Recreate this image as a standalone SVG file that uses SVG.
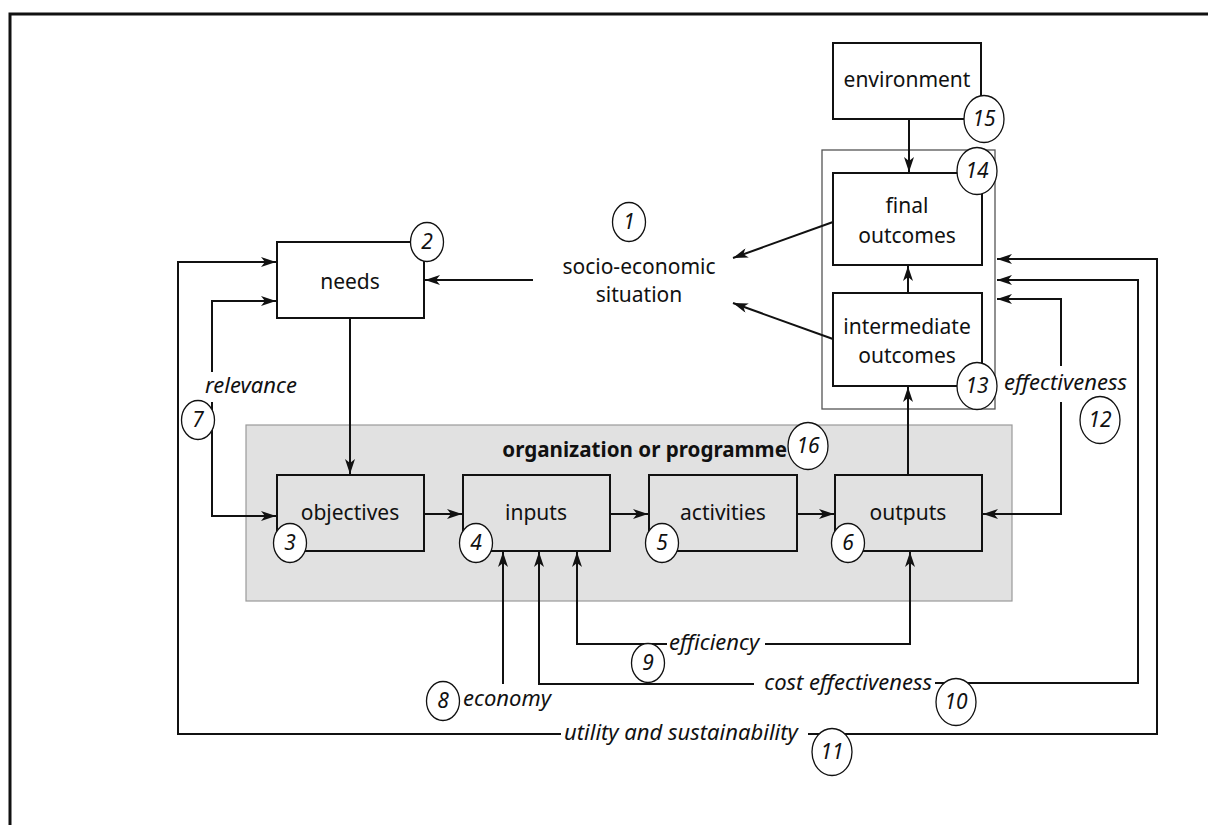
<svg xmlns="http://www.w3.org/2000/svg" width="1208" height="825" viewBox="0 0 1208 825">
  <defs>
    <marker id="ah" viewBox="0 0 15 10" refX="15" refY="5" markerWidth="15" markerHeight="10" orient="auto-start-reverse" markerUnits="userSpaceOnUse">
      <path d="M0,0 L15,5 L0,10 L4,5 z" fill="#111"/>
    </marker>
    <style>
      .frame{fill:none;stroke:#111;stroke-width:3}
      .box{fill:none;stroke:#111;stroke-width:2}
      .wbox{fill:#fff;stroke:#111;stroke-width:2}
      .group{fill:#e1e1e1;stroke:#9a9a9a;stroke-width:1.2}
      .thin{fill:none;stroke:#555;stroke-width:1.3}
      .wire{fill:none;stroke:#111;stroke-width:2}
      .t{font-family:"Noto Sans","Open Sans","DejaVu Sans",sans-serif;font-size:21px;fill:#111;text-anchor:middle}
      .it{font-style:italic;font-size:22px}
      .b{font-weight:bold;font-size:20.6px}
      .num ellipse{fill:#fff;stroke:#111;stroke-width:1.3}
      .num text{font-family:"Noto Sans","Open Sans","DejaVu Sans",sans-serif;font-size:21px;font-style:italic;fill:#111;text-anchor:middle}
    </style>
  </defs>

  <rect width="1208" height="825" fill="#fff"/>
  <!-- page frame, open to the right and bottom -->
  <rect class="frame" x="10" y="14" width="1240" height="860"/>

  <!-- shaded organisation area and the outcomes enclosure -->
  <g id="organization">
    <rect class="group" x="246" y="425" width="766" height="176"/>
    <text class="t b" x="787" y="457" style="text-anchor:end">organization or programme</text>
  </g>
  <rect id="outcomes-frame" class="thin" x="822" y="150" width="173" height="259"/>

  <!-- connectors -->
  <g id="connectors" class="wire">
    <path d="M533,280 H425" marker-end="url(#ah)"/>
    <path d="M833,222 L733,258" marker-end="url(#ah)"/>
    <path d="M833,339 L733,303" marker-end="url(#ah)"/>
    <path d="M909,119 V172" marker-end="url(#ah)"/>
    <path d="M908,293 V266" marker-end="url(#ah)"/>
    <path d="M908,476 V387" marker-end="url(#ah)"/>
    <path d="M350,318 V474" marker-end="url(#ah)"/>
    <path d="M424,514 H462" marker-end="url(#ah)"/>
    <path d="M610,514 H648" marker-end="url(#ah)"/>
    <path d="M797,514 H834" marker-end="url(#ah)"/>
    <!-- relevance -->
    <path d="M212,372 V301 H276" marker-end="url(#ah)"/>
    <path d="M212,402 V516 H276" marker-end="url(#ah)"/>
    <!-- utility and sustainability -->
    <path d="M561,734 H178 V262 H276" marker-end="url(#ah)"/>
    <path d="M808,734 H1157 V259 H997" marker-end="url(#ah)"/>
    <!-- cost effectiveness -->
    <path d="M754,684 H539 V552" marker-end="url(#ah)"/>
    <path d="M935,683 H1138 V280 H997" marker-end="url(#ah)"/>
    <!-- efficiency -->
    <path d="M667,644 H577 V552" marker-end="url(#ah)"/>
    <path d="M765,644 H910 V552" marker-end="url(#ah)"/>
    <!-- economy -->
    <path d="M503,684 V552" marker-end="url(#ah)"/>
    <!-- effectiveness -->
    <path d="M1061,366 V299 H997" marker-end="url(#ah)"/>
    <path d="M1061,402 V514 H983" marker-end="url(#ah)"/>
  </g>

  <!-- connector labels -->
  <g id="connector-labels">
    <text class="t it" x="205" y="393" style="text-anchor:start">relevance</text>
    <text class="t it" x="1004" y="390" style="text-anchor:start">effectiveness</text>
    <text class="t it" x="669" y="650" style="text-anchor:start">efficiency</text>
    <text class="t it" x="932" y="690" style="text-anchor:end">cost effectiveness</text>
    <text class="t it" x="463" y="706" style="text-anchor:start">economy</text>
    <text class="t it" x="564" y="740" style="text-anchor:start">utility and sustainability</text>
  </g>

  <!-- nodes -->
  <g id="socio-economic">
    <text class="t" x="639" y="274">socio-economic</text>
    <text class="t" x="639" y="302">situation</text>
  </g>
  <g id="needs">
    <rect class="wbox" x="277" y="242" width="147" height="76"/>
    <text class="t" x="350" y="289">needs</text>
  </g>
  <g id="environment">
    <rect class="wbox" x="833" y="43" width="148" height="76"/>
    <text class="t" x="907" y="87">environment</text>
  </g>
  <g id="final-outcomes">
    <rect class="box" x="833" y="173" width="149" height="92"/>
    <text class="t" x="907" y="213">final</text>
    <text class="t" x="907" y="243">outcomes</text>
  </g>
  <g id="intermediate-outcomes">
    <rect class="box" x="833" y="293" width="149" height="93"/>
    <text class="t" x="907" y="334">intermediate</text>
    <text class="t" x="907" y="363">outcomes</text>
  </g>
  <g id="objectives">
    <rect class="box" x="277" y="475" width="147" height="76"/>
    <text class="t" x="350" y="520">objectives</text>
  </g>
  <g id="inputs">
    <rect class="box" x="463" y="475" width="147" height="76"/>
    <text class="t" x="536" y="520">inputs</text>
  </g>
  <g id="activities">
    <rect class="box" x="649" y="475" width="148" height="76"/>
    <text class="t" x="723" y="520">activities</text>
  </g>
  <g id="outputs">
    <rect class="box" x="835" y="475" width="147" height="76"/>
    <text class="t" x="908" y="520">outputs</text>
  </g>

  <!-- numbered markers -->
  <g id="numbers" class="num">
    <g id="n1"><ellipse cx="629" cy="222" rx="16.5" ry="19.5"/><text x="629" y="229">1</text></g>
    <g id="n2"><ellipse cx="427" cy="242" rx="16.5" ry="19.5"/><text x="427" y="249">2</text></g>
    <g id="n3"><ellipse cx="290" cy="543" rx="16.5" ry="19.5"/><text x="290" y="550">3</text></g>
    <g id="n4"><ellipse cx="476" cy="543" rx="16.5" ry="19.5"/><text x="476" y="550">4</text></g>
    <g id="n5"><ellipse cx="662" cy="543" rx="16.5" ry="19.5"/><text x="662" y="550">5</text></g>
    <g id="n6"><ellipse cx="848" cy="543" rx="16.5" ry="19.5"/><text x="848" y="550">6</text></g>
    <g id="n7"><ellipse cx="198" cy="420" rx="16.5" ry="19.5"/><text x="198" y="427">7</text></g>
    <g id="n8"><ellipse cx="443" cy="701" rx="16.5" ry="19.5"/><text x="443" y="708">8</text></g>
    <g id="n9"><ellipse cx="648" cy="663" rx="16.5" ry="19.5"/><text x="648" y="670">9</text></g>
    <g id="n10"><ellipse cx="956" cy="702" rx="20" ry="23.5"/><text x="956" y="709">10</text></g>
    <g id="n11"><ellipse cx="832" cy="752" rx="20" ry="23.5"/><text x="832" y="759">11</text></g>
    <g id="n12"><ellipse cx="1100" cy="420" rx="20" ry="23.5"/><text x="1100" y="427">12</text></g>
    <g id="n13"><ellipse cx="977" cy="386" rx="20" ry="23.5"/><text x="977" y="393">13</text></g>
    <g id="n14"><ellipse cx="977" cy="171" rx="20" ry="23.5"/><text x="977" y="178">14</text></g>
    <g id="n15"><ellipse cx="984" cy="119" rx="20" ry="23.5"/><text x="984" y="126">15</text></g>
    <g id="n16"><ellipse cx="808" cy="446" rx="20" ry="23.5"/><text x="808" y="453">16</text></g>
  </g>
</svg>
